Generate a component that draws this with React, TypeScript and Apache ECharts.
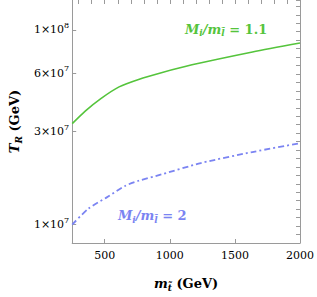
import React, { useEffect, useRef } from "react";
import * as echarts from "echarts";

const greenX = [250, 350, 470, 610, 760, 935, 1170, 1635, 2000];
const greenY = [3.3e7, 3.83e7, 4.44e7, 5.1e7, 5.57e7, 6.03e7, 6.62e7, 7.71e7, 8.57e7];
const blueX = [250, 376, 516, 656, 760, 935, 1238, 1635, 2000];
const blueY = [1.0e7, 1.21e7, 1.38e7, 1.58e7, 1.68e7, 1.81e7, 2.07e7, 2.36e7, 2.62e7];

const xLabelTicks = [500, 1000, 1500, 2000];
const xBottomTicks = [500, 1000, 1500];
const xTopTicks = [300, 400, 500, 600, 700, 800, 900, 1000, 1100, 1200, 1300, 1400, 1500, 1600, 1700, 1800, 1900, 2000];
const yTicks = [1e7, 3e7, 6e7, 1e8];

const GREEN = "#55c43c";
const BLUE = "#7b84f2";
const AXIS = "#9a9a9a";
const SERIF = "DejaVu Serif";

export default function App() {
  const ref = useRef<HTMLDivElement>(null);
  useEffect(() => {
    if (!ref.current) return;
    const chart = echarts.init(ref.current, undefined, { renderer: "svg" });
    const annRich = (color: string) => ({
      it: { fontFamily: SERIF, fontSize: 13, fontWeight: "bold", fontStyle: "italic", color },
      sub: { fontFamily: SERIF, fontSize: 9, fontWeight: "bold", fontStyle: "italic", color, padding: [8, 0, 0, 0] },
      n: { fontFamily: SERIF, fontSize: 13, fontWeight: "bold", color },
    });
    chart.setOption({
      animation: false,
      textStyle: { fontFamily: SERIF },
      grid: { left: 52, right: 14, top: -2, bottom: 48 },
      xAxis: [
        {
          type: "value",
          position: "bottom",
          min: 250,
          max: 2000,
          name: "{m|m}{sub|t\u0303}{n| (GeV)}",
          nameLocation: "middle",
          nameGap: 31,
          nameTextStyle: {
            fontFamily: SERIF,
            rich: {
              m: { fontFamily: SERIF, fontSize: 13, fontWeight: "bold", fontStyle: "italic", color: "#000" },
              sub: { fontFamily: SERIF, fontSize: 9, fontWeight: "bold", fontStyle: "italic", color: "#000", padding: [9, 0, 0, 0] },
              n: { fontFamily: SERIF, fontSize: 13, fontWeight: "bold", color: "#000" },
            },
          },
          axisLine: { show: true, lineStyle: { color: AXIS, width: 1 } },
          axisTick: { show: true, inside: true, length: 4, lineStyle: { color: AXIS }, customValues: xBottomTicks },
          axisLabel: {
            show: true,
            customValues: xLabelTicks,
            margin: 7,
            fontFamily: SERIF,
            fontSize: 11,
            color: "#000",
            formatter: (v: number) => String(v),
          },
          splitLine: { show: false },
        },
        {
          type: "value",
          position: "top",
          min: 250,
          max: 2000,
          axisLine: { show: false },
          axisTick: { show: true, inside: true, length: 4, lineStyle: { color: AXIS }, customValues: xTopTicks },
          axisLabel: { show: false },
          splitLine: { show: false },
        },
      ],
      yAxis: [
        {
          type: "log",
          position: "left",
          min: 8.045e6,
          max: 1.425e8,
          name: "{t|T}{sub|R}{n| (GeV)}",
          nameLocation: "middle",
          nameGap: 42,
          nameRotate: 90,
          nameTextStyle: {
            fontFamily: SERIF,
            rich: {
              t: { fontFamily: SERIF, fontSize: 13, fontWeight: "bold", fontStyle: "italic", color: "#000" },
              sub: { fontFamily: SERIF, fontSize: 9, fontWeight: "bold", fontStyle: "italic", color: "#000", padding: [8, 0, 0, 0] },
              n: { fontFamily: SERIF, fontSize: 13, fontWeight: "bold", color: "#000" },
            },
          },
          axisLine: { show: true, lineStyle: { color: AXIS, width: 1 } },
          axisTick: { show: true, inside: true, length: 4, lineStyle: { color: AXIS }, customValues: yTicks },
          axisLabel: {
            show: true,
            customValues: yTicks,
            margin: 3,
            fontFamily: SERIF,
            formatter: (v: number) => {
              const e = Math.floor(Math.log10(v) + 1e-9);
              const m = Math.round(v / Math.pow(10, e));
              return `{b|${m}×10}{s|${e}}`;
            },
            rich: {
              b: { fontFamily: SERIF, fontSize: 11, color: "#000" },
              s: { fontFamily: SERIF, fontSize: 8, color: "#000", padding: [0, 0, 9, 0] },
            },
          },
          splitLine: { show: false },
        },
        {
          type: "value",
          position: "right",
          min: 0,
          max: 28.75,
          interval: 1,
          axisLine: { show: true, lineStyle: { color: AXIS, width: 1 } },
          axisTick: { show: true, inside: true, length: 4, lineStyle: { color: AXIS } },
          axisLabel: { show: false },
          splitLine: { show: false },
        },
      ],
      series: [
        {
          type: "line",
          xAxisIndex: 0,
          yAxisIndex: 0,
          data: greenX.map((x, i) => [x, greenY[i]]),
          showSymbol: false,
          smooth: 0.25,
          lineStyle: { color: GREEN, width: 1.6 },
          itemStyle: { color: GREEN },
          markPoint: {
            symbol: "circle",
            symbolSize: 1,
            itemStyle: { color: "rgba(0,0,0,0)" },
            label: {
              show: true,
              position: "inside",
              fontFamily: SERIF,
              formatter: "{it|M}{sub|i}{it|/m}{sub|l\u0303}{n| = 1.1}",
              rich: annRich(GREEN),
            },
            data: [{ coord: [1432, 1.01e8] }],
          },
        },
        {
          type: "line",
          xAxisIndex: 0,
          yAxisIndex: 0,
          data: blueX.map((x, i) => [x, blueY[i]]),
          showSymbol: false,
          smooth: 0.25,
          lineStyle: { color: BLUE, width: 1.8, type: [6, 3, 2, 3] },
          itemStyle: { color: BLUE },
          markPoint: {
            symbol: "circle",
            symbolSize: 1,
            itemStyle: { color: "rgba(0,0,0,0)" },
            label: {
              show: true,
              position: "inside",
              fontFamily: SERIF,
              formatter: "{it|M}{sub|i}{it|/m}{sub|l\u0303}{n| = 2}",
              rich: annRich(BLUE),
            },
            data: [{ coord: [865, 1.11e7] }],
          },
        },
      ],
    });
    return () => chart.dispose();
  }, []);
  return (
    <div
      ref={ref}
      style={{ position: "fixed", left: 0, top: 0, width: 317, height: 297, background: "#fff" }}
    />
  );
}
